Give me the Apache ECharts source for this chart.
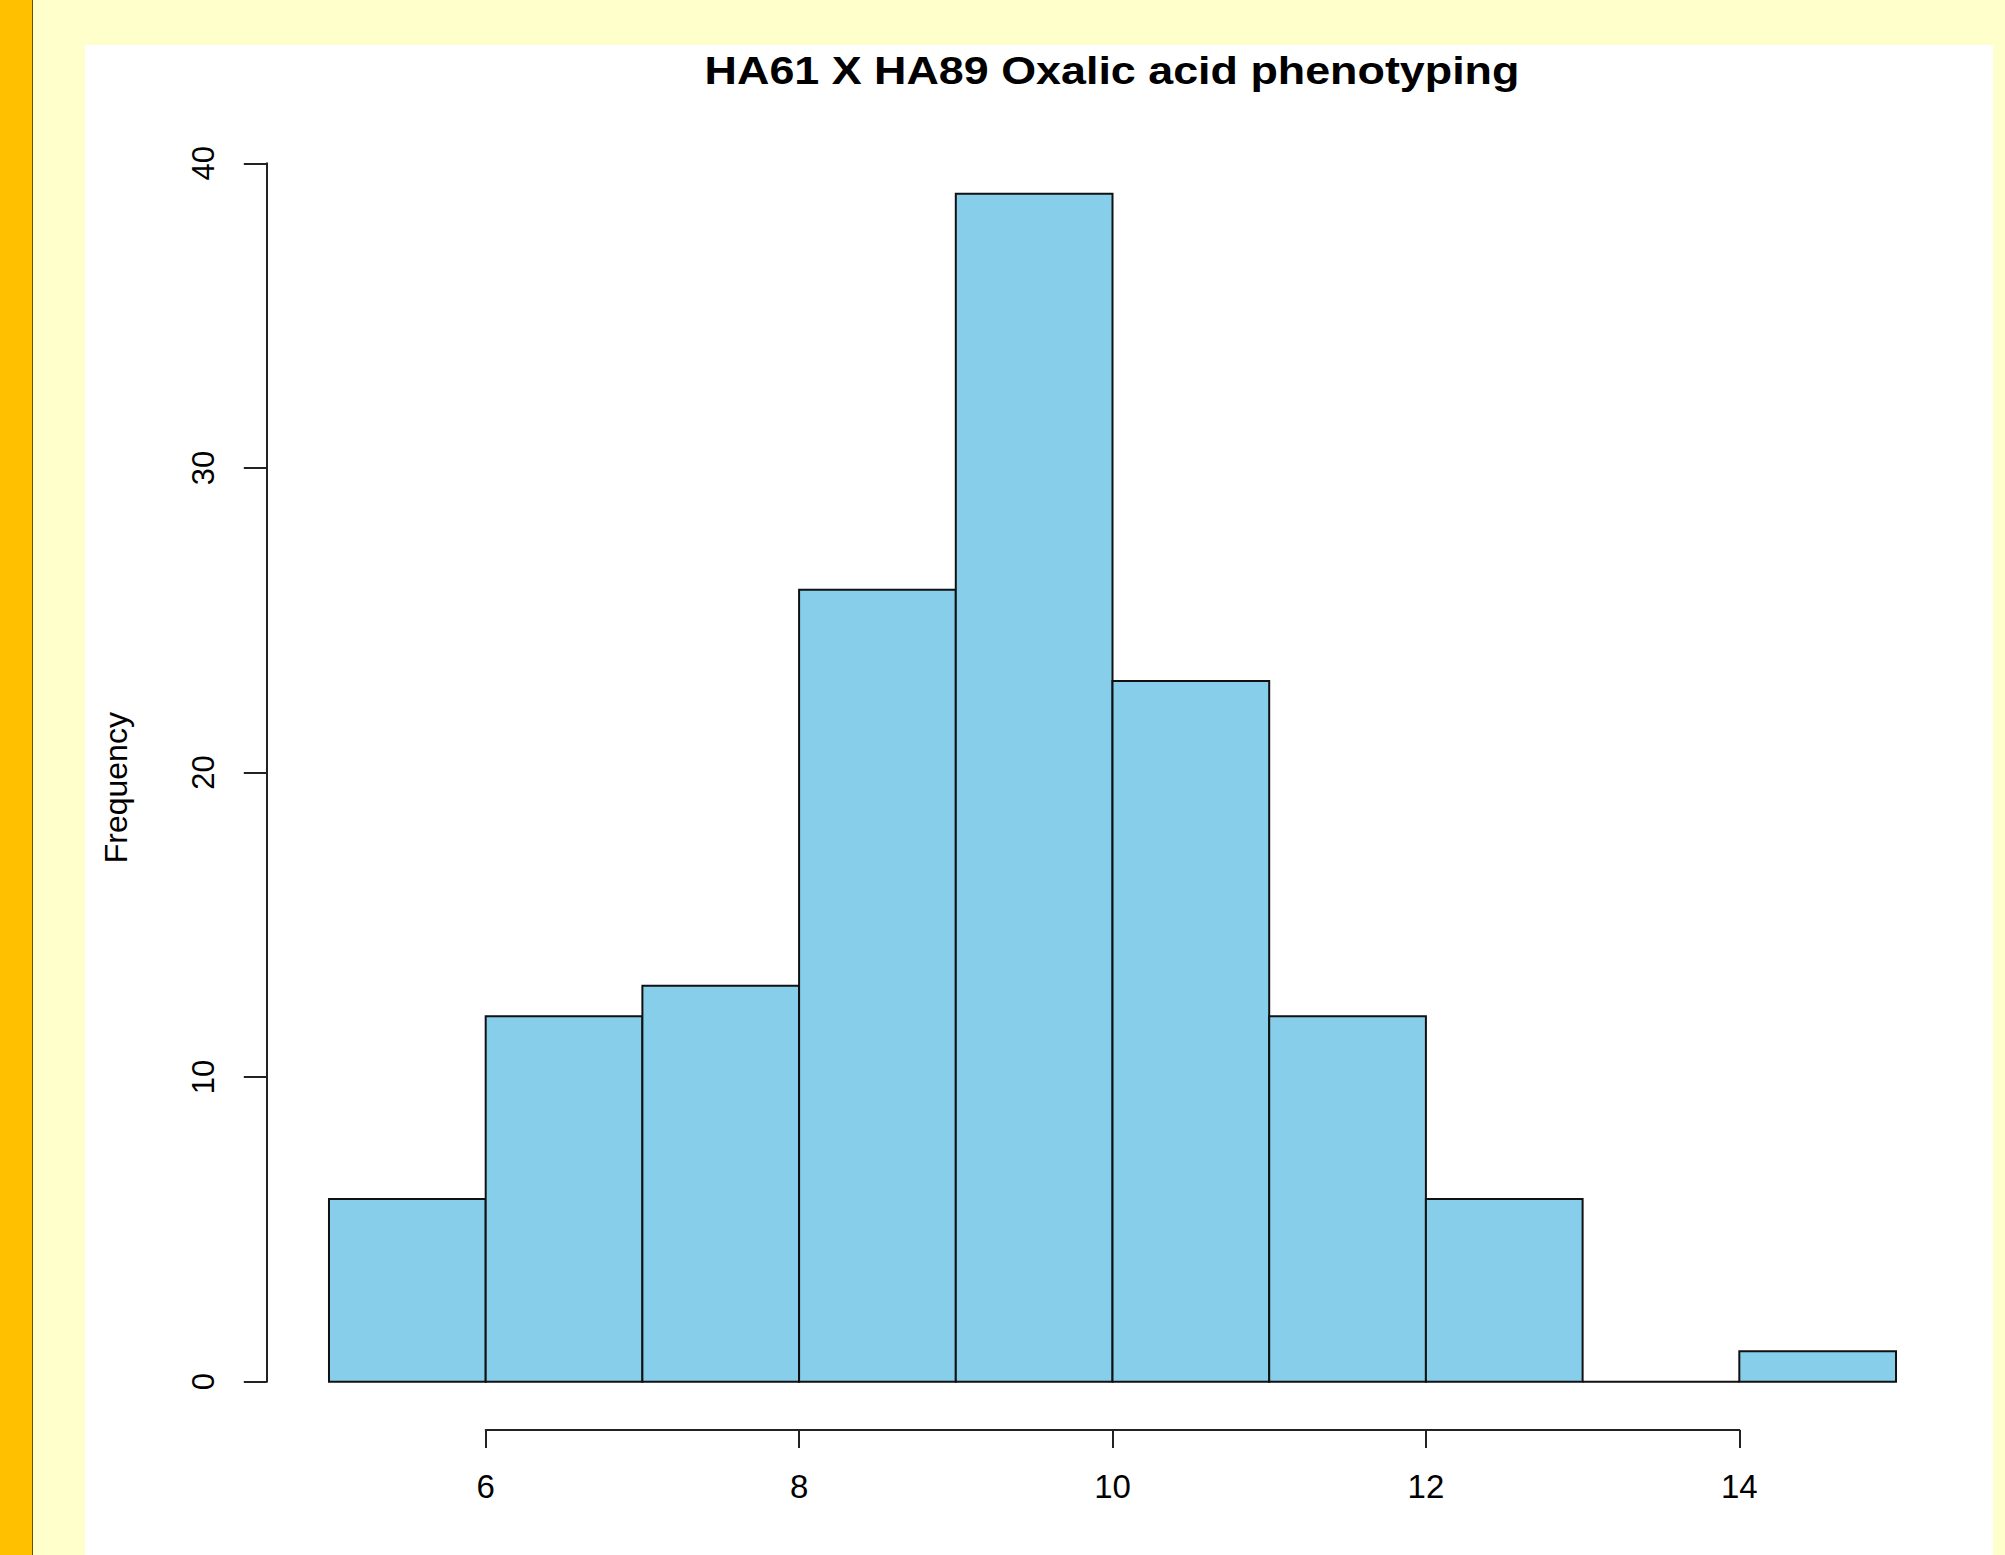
<!DOCTYPE html>
<html>
<head>
<meta charset="utf-8">
<script src="https://cdn.jsdelivr.net/npm/echarts@6/dist/echarts.min.js"></script>
<style>
  html, body { margin: 0; padding: 0; width: 2005px; height: 1555px; overflow: hidden; background: #FFFFCC; }
  #stripe { position: absolute; left: 0; top: 0; width: 32px; height: 1555px; background: #FFC000; border-right: 1px solid #6b4e00; }
  #panel { position: absolute; left: 85px; top: 45px; width: 1908px; height: 1510px; background: #FFFFFF; }
  #chart { position: absolute; left: 0; top: 0; width: 2005px; height: 1555px; }
</style>
</head>
<body>
<div id="stripe"></div>
<div id="panel"></div>
<div id="chart"></div>
<script>
// ---- data ----
const titleText = 'HA61 X HA89 Oxalic acid phenotyping';
const xLabel = 'Average Score';
const yLabel = 'Frequency';
const binEdges = [5, 6, 7, 8, 9, 10, 11, 12, 13, 14, 15];
const counts = [6, 12, 13, 26, 39, 23, 12, 6, 0, 1];
const xTicks = [6, 8, 10, 12, 14];
const yTicks = [0, 10, 20, 30, 40];

// ---- build ----
const bins = counts.map((c, i) => [binEdges[i], binEdges[i + 1], c]);
const FONT = '"Liberation Sans", Arial, sans-serif';

const chart = echarts.init(document.getElementById('chart'), null, { renderer: 'svg' });
chart.setOption({
  backgroundColor: 'transparent',
  animation: false,
  graphic: [{
    type: 'text',
    x: 1112, y: 51,
    scaleX: 1.15,
    style: {
      text: titleText,
      font: 'bold 39px ' + FONT,
      fill: '#000',
      textAlign: 'center',
      textVerticalAlign: 'top'
    }
  }],
  grid: [
    { left: 266.3, right: 46.3, top: 146.2, bottom: 125.8, outerBoundsMode: 'none', containLabel: false },
    { left: 485.7, right: 265.7, top: 1300, bottom: 125, outerBoundsMode: 'none', containLabel: false },
    { left: 266.8, width: 10, top: 163.3, bottom: 173.3, outerBoundsMode: 'none', containLabel: false }
  ],
  xAxis: [
    {
      gridIndex: 0, type: 'value', min: 4.6, max: 15.4,
      axisLine: { show: false }, axisTick: { show: false }, axisLabel: { show: false }, splitLine: { show: false },
      name: xLabel, nameLocation: 'middle', nameGap: 121,
      nameTextStyle: { fontSize: 33, fontFamily: FONT, color: '#000', verticalAlign: 'top' }
    },
    {
      gridIndex: 1, type: 'value', min: xTicks[0], max: xTicks[xTicks.length - 1], interval: 2,
      axisLine: { show: true, lineStyle: { color: '#222', width: 2 } },
      axisTick: { show: true, length: 18, lineStyle: { color: '#222', width: 2 } },
      axisLabel: { show: true, fontSize: 33, fontFamily: FONT, color: '#000', margin: 40 },
      splitLine: { show: false }
    },
    {
      gridIndex: 2, type: 'value', min: 0, max: 1, show: false
    }
  ],
  yAxis: [
    {
      gridIndex: 0, type: 'value', min: -1.56, max: 40.56,
      axisLine: { show: false }, axisTick: { show: false }, axisLabel: { show: false }, splitLine: { show: false },
      name: yLabel, nameLocation: 'middle', nameGap: 134, nameRotate: 90,
      nameTextStyle: { fontSize: 32, fontFamily: FONT, color: '#000' }
    },
    {
      gridIndex: 1, type: 'value', min: 0, max: 1, show: false
    },
    {
      gridIndex: 2, type: 'value', min: yTicks[0], max: yTicks[yTicks.length - 1], interval: 10,
      axisLine: { show: true, lineStyle: { color: '#222', width: 2 } },
      axisTick: { show: true, length: 23, lineStyle: { color: '#222', width: 2 } },
      axisLabel: { show: true, rotate: 90, fontSize: 31, fontFamily: FONT, color: '#000', margin: 48 },
      splitLine: { show: false }
    }
  ],
  series: [{
    type: 'custom',
    xAxisIndex: 0, yAxisIndex: 0,
    data: bins,
    renderItem: function (params, api) {
      const p0 = api.coord([api.value(0), api.value(2)]);
      const p1 = api.coord([api.value(1), 0]);
      return {
        type: 'rect',
        shape: { x: p0[0], y: p0[1], width: p1[0] - p0[0], height: p1[1] - p0[1] },
        style: { fill: '#87CEEB', stroke: '#111', lineWidth: 2 }
      };
    }
  }]
});
</script>
</body>
</html>
